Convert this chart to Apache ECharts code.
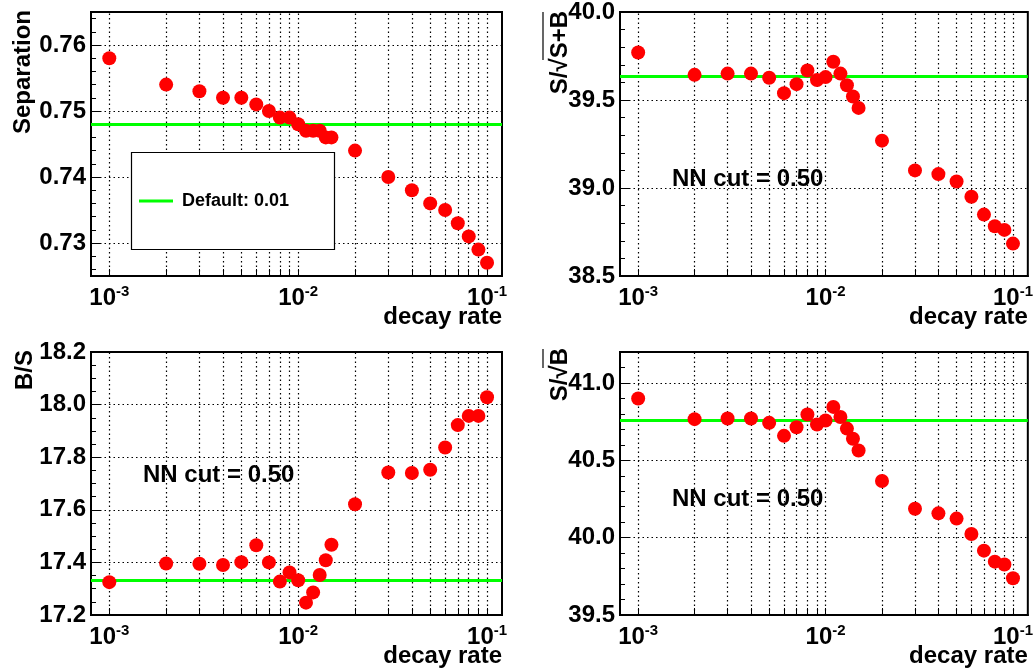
<!DOCTYPE html>
<html>
<head>
<meta charset="utf-8">
<title>decay rate scan</title>
<script src="https://cdn.jsdelivr.net/npm/echarts@6/dist/echarts.min.js"></script>
<style>
html, body, #main {width:100%;height:100%;margin:0;overflow:hidden;background:#fff;}
</style>
</head>
<body>
<div id="main"></div>
<script>
// x values (decay rate) shared by all four plots
var decayRate = [0.001, 0.002, 0.003, 0.004, 0.005, 0.006, 0.007, 0.008, 0.009,
                 0.010, 0.011, 0.012, 0.013, 0.014, 0.015,
                 0.02, 0.03, 0.04, 0.05, 0.06, 0.07, 0.08, 0.09, 0.1];

var separation = [0.758, 0.754, 0.753, 0.752, 0.752, 0.751, 0.750, 0.749, 0.749,
                  0.748, 0.747, 0.747, 0.747, 0.746, 0.746,
                  0.744, 0.740, 0.738, 0.736, 0.735, 0.733, 0.731, 0.729, 0.727];
var sOverSqrtSB = [39.77, 39.643, 39.65, 39.65, 39.626, 39.539, 39.59, 39.668, 39.613,
                   39.63, 39.717, 39.65, 39.584, 39.52, 39.455,
                   39.269, 39.10, 39.079, 39.037, 38.95, 38.849, 38.783, 38.762, 38.684];
var bOverS = [17.325, 17.396, 17.395, 17.39, 17.401, 17.465, 17.40, 17.327, 17.362,
              17.332, 17.247, 17.286, 17.352, 17.408, 17.467,
              17.621, 17.742, 17.74, 17.752, 17.837, 17.922, 17.957, 17.957, 18.028];
var sOverSqrtB = [40.899, 40.766, 40.77, 40.77, 40.742, 40.658, 40.714, 40.796, 40.731,
                  40.757, 40.845, 40.78, 40.705, 40.639, 40.563,
                  40.366, 40.187, 40.157, 40.123, 40.024, 39.916, 39.845, 39.826, 39.738];

// value at the default decay rate (green line)
var defaultLine = [0.748, 39.634, 17.332, 40.757];

// tick labels
var xGridValues = [0.001, 0.002, 0.003, 0.004, 0.005, 0.006, 0.007, 0.008, 0.009,
                   0.01, 0.02, 0.03, 0.04, 0.05, 0.06, 0.07, 0.08, 0.09, 0.1];
var xLabelValues = [0.001, 0.01, 0.1];
var yTicksSep = [0.73, 0.74, 0.75, 0.76];
var yTicksSSB = [38.5, 39.0, 39.5, 40.0];
var yTicksBS = [17.2, 17.4, 17.6, 17.8, 18.0, 18.2];
var yTicksSB = [39.5, 40.0, 40.5, 41.0];

var FONT = '"Liberation Sans", Arial, Helvetica, sans-serif';

var panels = [
  {grid:{left:91, top:12, width:411, height:264},  values:separation,  ymin:0.725, ymax:0.765, split:4, minor:5, ticks:yTicksSep, digits:2},
  {grid:{left:620, top:12, width:411, height:264}, values:sOverSqrtSB, ymin:38.5, ymax:40.0, interval:0.5, minor:5, ticks:yTicksSSB, digits:1},
  {grid:{left:91, top:352, width:411, height:263}, values:bOverS,      ymin:17.2, ymax:18.2, interval:0.2, minor:4, ticks:yTicksBS, digits:1},
  {grid:{left:620, top:352, width:411, height:263},values:sOverSqrtB,  ymin:39.5, ymax:41.2, interval:0.5, minor:5, ticks:yTicksSB, digits:1}
];

var dotted = {color:'#000', width:1.2, type:[1.5, 3]};

var grids = [], xAxes = [], yAxes = [], series = [];
panels.forEach(function (p, i) {
  grids.push(Object.assign({show:true, borderColor:'#000', borderWidth:2, backgroundColor:'#fff'}, p.grid));

  xAxes.push({
    type:'log', logBase:10, gridIndex:i, min:0.0008, max:0.12,
    axisLine:{show:true, onZero:false, lineStyle:{color:'#000', width:2}},
    axisTick:{show:true, inside:true, length:7, customValues:xGridValues, lineStyle:{color:'#000', width:1}},
    splitLine:{show:false},
    axisLabel:{
      customValues:xLabelValues, margin:8, color:'#000',
      formatter:function (v) { return '{b|10}{s|' + Math.round(Math.log10(v)) + '}'; },
      rich:{
        b:{fontSize:24, fontWeight:'bold', fontFamily:FONT, color:'#000', lineHeight:28},
        s:{fontSize:15, fontWeight:'bold', fontFamily:FONT, color:'#000', lineHeight:16, verticalAlign:'top'}
      }
    },
    name:'decay rate', nameLocation:'end', nameGap:0, nameMoveOverlap:false,
    nameTextStyle:{fontSize:24, fontWeight:'bold', fontFamily:FONT, color:'#000',
                   align:'right', verticalAlign:'top', padding:[29, 0, 0, 0]}
  });

  var y = {
    type:'value', gridIndex:i, min:p.ymin, max:p.ymax,
    axisLine:{show:true, lineStyle:{color:'#000', width:2}},
    axisTick:{show:true, inside:true, length:10, lineStyle:{color:'#000', width:1}},
    minorTick:{show:true, splitNumber:p.minor, length:5, lineStyle:{color:'#000', width:1}},
    splitLine:{show:true, lineStyle:dotted},
    axisLabel:{
      customValues:p.ticks, margin:5, color:'#000', fontSize:24, fontWeight:'bold', fontFamily:FONT,
      formatter:(function (d) { return function (v) { return v.toFixed(d); }; })(p.digits)
    }
  };
  if (p.interval) y.interval = p.interval; else y.splitNumber = p.split;
  yAxes.push(y);

  var lines = xGridValues.map(function (v) { return {xAxis:v, lineStyle:dotted}; });
  lines.push({yAxis:defaultLine[i], lineStyle:{color:'#00ff00', width:3, type:'solid'}});

  series.push({
    type:'scatter', xAxisIndex:i, yAxisIndex:i, z:3,
    symbol:'circle', symbolSize:14,
    itemStyle:{color:'#ff0000', opacity:1},
    data:decayRate.map(function (x, k) { return [x, p.values[k]]; }),
    markLine:{
      silent:true, z:1, precision:6, symbol:['none', 'none'], label:{show:false}, animation:false,
      data:lines
    }
  });
});

function title(text, x, y) {
  return {type:'text', x:x, y:y, rotation:Math.PI / 2, z:20,
          style:{text:text, fontSize:24, fontWeight:'bold', fontFamily:FONT, fill:'#000',
                 align:'right', verticalAlign:'middle'}};
}
function note(text, x, y) {
  return {type:'text', x:x, y:y, z:20,
          style:{text:text, fontSize:24, fontWeight:'bold', fontFamily:FONT, fill:'#000',
                 align:'left', verticalAlign:'middle'}};
}

var graphics = [
  title('Separation', 23, 10),
  title('S/\u221AS+B', 560, 11),
  title('B/S', 25, 350),
  title('S/\u221AB', 560, 348),
  {type:'line', z:20, shape:{x1:543, y1:12, x2:543, y2:60}, style:{stroke:'#000', lineWidth:1.2}},
  {type:'line', z:20, shape:{x1:543, y1:349, x2:543, y2:368}, style:{stroke:'#000', lineWidth:1.2}},
  note('NN cut = 0.50', 672, 179),
  note('NN cut = 0.50', 143, 475),
  note('NN cut = 0.50', 672, 499),
  // legend box
  {type:'rect', z:15, shape:{x:131.5, y:152.5, width:203, height:97},
   style:{fill:'#fff', stroke:'#000', lineWidth:1.2}},
  {type:'line', z:16, shape:{x1:139, y1:201, x2:173, y2:201}, style:{stroke:'#00ff00', lineWidth:3}},
  {type:'text', z:16, x:182, y:201,
   style:{text:'Default: 0.01', fontSize:18, fontWeight:'bold', fontFamily:FONT, fill:'#000',
          align:'left', verticalAlign:'middle'}}
];

var chart = echarts.init(document.getElementById('main'));
chart.setOption({
  animation:false,
  backgroundColor:'#fff',
  grid:grids,
  xAxis:xAxes,
  yAxis:yAxes,
  series:series,
  graphic:graphics
});
</script>
</body>
</html>
